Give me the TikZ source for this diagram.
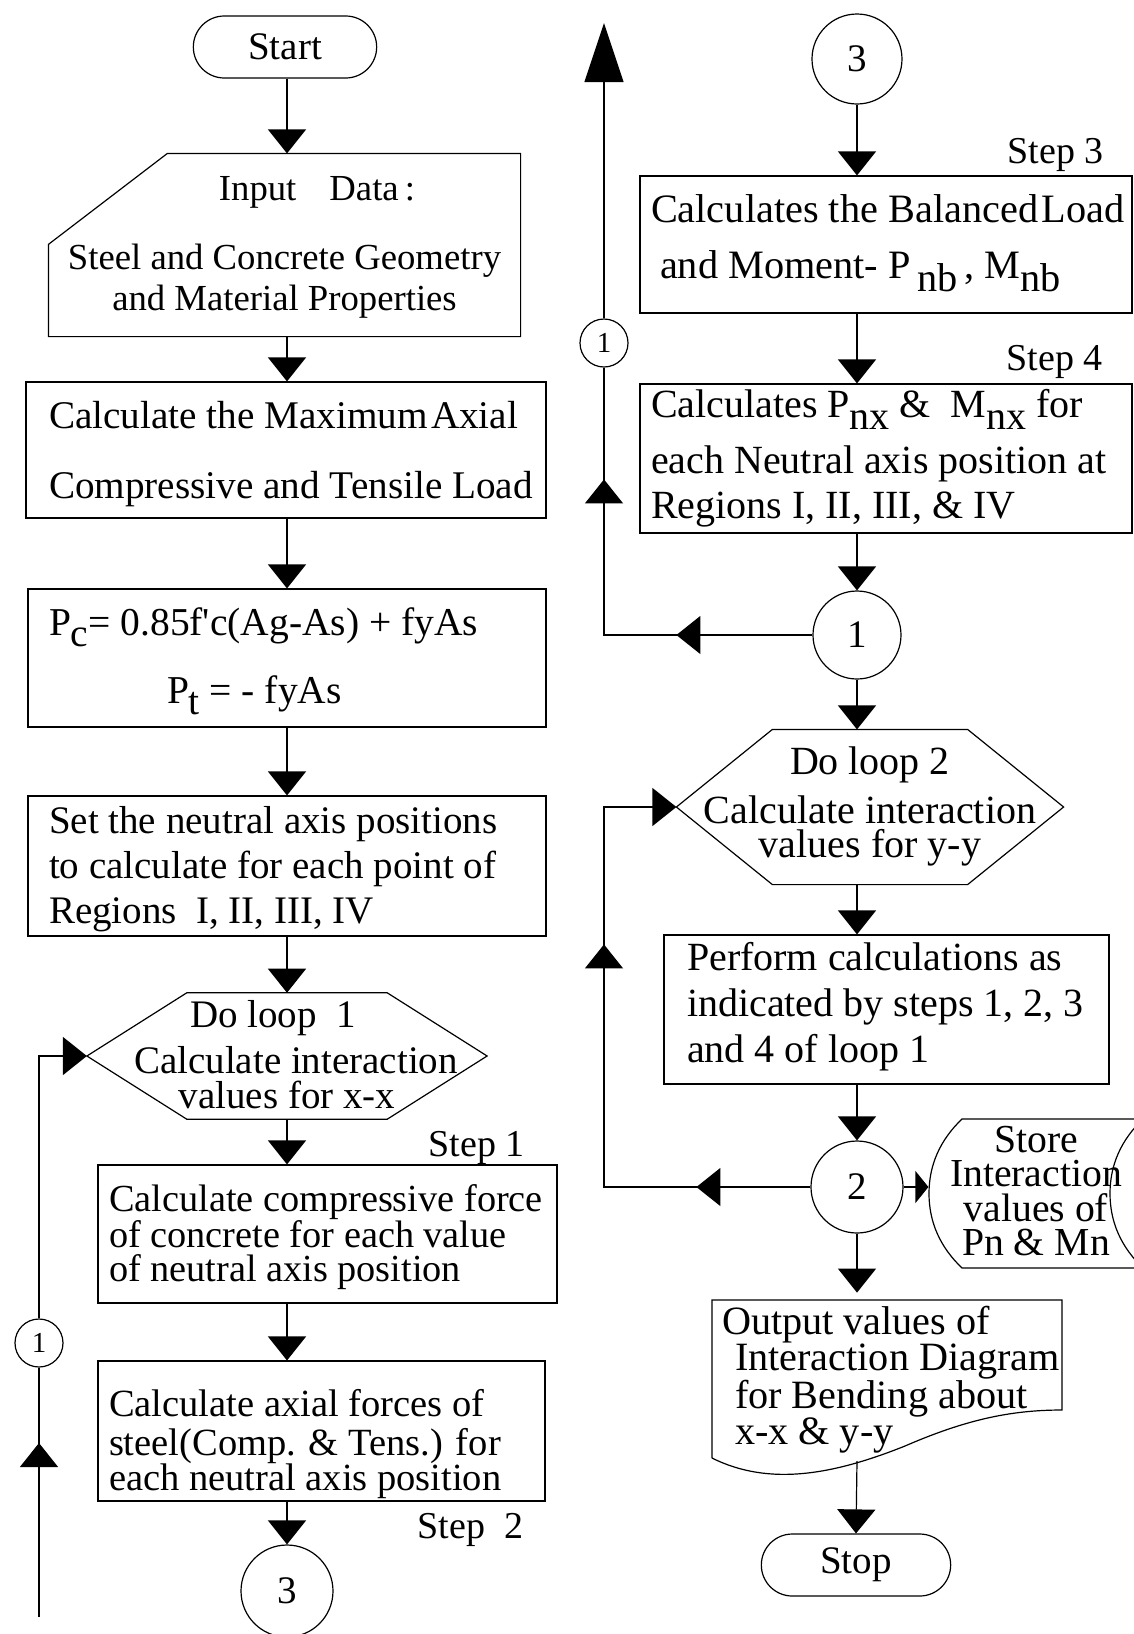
\documentclass[tikz,border=0pt]{standalone}
\usepackage{fontspec}
\setmainfont{Liberation Serif}
\usetikzlibrary{arrows.meta,shapes.misc,decorations.markings}

\newcommand{\fsz}[2]{\fontsize{#1pt}{#2pt}\selectfont}
\newcommand{\hstrut}[1]{\rule{0pt}{#1pt}}
\newcommand{\dstrut}[1]{\rule[-#1pt]{0pt}{#1pt}}
\newcommand{\lowr}[2]{\raisebox{-#1pt}[0pt][0pt]{#2}}
\newcommand{\hexframe}[2]{\draw (#1.west) -- ([xshift=#2pt]#1.north west) -- ([xshift=-#2pt]#1.north east) -- (#1.east) -- ([xshift=-#2pt]#1.south east) -- ([xshift=#2pt]#1.south west) -- cycle;}

\tikzset{
  procbox/.style={draw, rectangle, align=flush left, inner ysep=0pt},
  textbox/.style={rectangle, align=center, inner ysep=0pt},
  term/.style={draw, rounded rectangle, minimum width=#1, minimum height=62pt, font=\fsz{39}{44}},
  conn/.style={draw, circle, inner sep=0pt, minimum size=#1},
  steplbl/.style={anchor=base west, inner sep=0pt, font=\fsz{38}{40}},
  midtip/.style={postaction={decorate}, decoration={markings, mark=at position #1 with {\arrow{>}}}},
  loopback/.style 2 args={postaction={decorate}, decoration={markings, mark=at position #1 with {\arrow{>}}, mark=at position #2 with {\arrow{>}}}}
}

\begin{document}
\begin{tikzpicture}[x=1pt, y=-1pt, line width=1.2pt, >={Triangle[width=38pt,length=24pt]}]
        \useasboundingbox (0,0) rectangle (1134,1634);
        \clip (0,0) rectangle (1134,1634);
        \coordinate (colL) at (287,0);
        \coordinate (colR) at (857,0);

        % Start and input
        \node[term=190pt] (start) at (285,47) {Start};
        \node[textbox, minimum width=471pt, minimum height=182pt, font=\fsz{36.7}{41}] (input) at (284.5,245)
            {\hstrut{30}\hspace*{65pt}Input\hspace{0.9em}Data\,:\\[28pt]Steel and Concrete Geometry\\and Material Properties\dstrut{10}};
        \draw ([xshift=119pt]input.north west) -- (input.north east) -- (input.south east) -- (input.south west) -- ([yshift=-91pt]input.north west) -- cycle;

        % Axial loads
        \node[procbox, minimum width=520pt, minimum height=136pt, inner xsep=23pt, text width=474pt, font=\fsz{39.2}{70}] (maxax) at (286,450)
            {\hstrut{36}\mbox{Calculate the Maximum\hspace{0.08em}Axial}\\\mbox{Compressive and Tensile Load}\dstrut{10}};
        \node[procbox, minimum width=518pt, minimum height=138pt, inner xsep=21pt, text width=476pt, font=\fsz{39.5}{68}] (pc) at (287,658)
            {\hstrut{32}\mbox{P\lowr{11}{c}= 0.85f\textquotesingle c(Ag-As) + fyAs}\\\hspace*{118pt}P\lowr{11}{t} = - fyAs\dstrut{10}};
        \node[procbox, minimum width=518pt, minimum height=140pt, inner xsep=21pt, text width=476pt, font=\fsz{39}{45}] (setna) at (287,866)
            {\hstrut{34}\mbox{Set the neutral axis positions}\\\mbox{to calculate for each point of}\\Regions\ \ I, II, III, IV\dstrut{10}};

        % Loop 1
        \node[textbox, minimum width=399pt, minimum height=124pt, font=\fsz{39}{35}] (hex1) at (287,1056)
            {\hstrut{34}Do loop\ \ 1\hspace*{28pt}\\[10pt]\hspace*{18pt}Calculate interaction\\values for x-x\dstrut{10}};
        \hexframe{hex1}{100}
        \node[steplbl] (lblone) at (428,1156) {Step 1};
        \node[procbox, minimum width=459pt, minimum height=138pt, inner xsep=11pt, text width=437pt, font=\fsz{38.3}{33.5}] (step1) at (327.5,1234)
            {\hstrut{35}\mbox{Calculate compressive force}\\\mbox{of concrete for each value}\\of neutral axis position\dstrut{10}};
        \node[procbox, minimum width=447pt, minimum height=138pt, inner xsep=11pt, text width=425pt, font=\fsz{38.5}{30}] (step2) at (321.5,1431)
            {\hstrut{55}Calculate axial forces of\\[9pt]\mbox{steel(Comp. \& Tens.) for}\\\mbox{each neutral axis position}\dstrut{10}};
        \node[steplbl] (lbltwo) at (417,1538) {Step\ \ 2};
        \node[conn=92pt, font=\fsz{39}{40}] (c3b) at (287,1591) {3};

        % Left return line
        \coordinate (lbot) at (39,1617);
        \node[conn=48pt, font=\fsz{29}{30}] (c1l) at (39,1343) {1};

        % Steps 3 and 4
        \node[conn=90pt, font=\fsz{39}{40}] (c3t) at (857,59) {3};
        \node[steplbl] (lblthree) at (1007,163) {Step 3};
        \node[procbox, minimum width=492pt, minimum height=137pt, inner xsep=11pt, text width=470pt, font=\fsz{40.3}{56}] (step3) at (886,244.5)
            {\hstrut{27}\mbox{Calculates the Balanced\hspace{0.08em}Load}\\\mbox{\hspace*{9pt}and Moment- P\,\lowr{13}{nb}\,, M\lowr{13}{nb}}\dstrut{16}};
        \node[steplbl] (lblfour) at (1006,370) {Step 4};
        \node[procbox, minimum width=492pt, minimum height=149pt, inner xsep=11pt, text width=470pt, font=\fsz{40}{45}] (step4) at (886,458.5)
            {\hstrut{28}\mbox{Calculates P\lowr{12}{nx} \&\ \ M\lowr{12}{nx} for}\\[11pt]\mbox{each Neutral axis position at}\\Regions I, II, III, \& IV\dstrut{10}};
        \node[conn=88pt, font=\fsz{39}{40}] (c1r) at (857,635) {1};
        \node[conn=48pt, font=\fsz{29}{30}] (c1u) at (604,343) {1};
        \coordinate (toptip) at (604,23);

        % Loop 2
        \node[textbox, minimum width=386pt, minimum height=154pt, font=\fsz{40}{34}] (hex2) at (870,807)
            {\hstrut{27}Do loop 2\\[11pt]Calculate interaction\\values for y-y\dstrut{10}};
        \hexframe{hex2}{96}
        \coordinate (rl2) at (604,807);
        \node[procbox, minimum width=445pt, minimum height=149pt, inner xsep=23pt, text width=399pt, font=\fsz{40}{46}] (perform) at (886.5,1009.5)
            {\hstrut{27}\mbox{Perform calculations as}\\\mbox{indicated by steps 1, 2, 3}\\and 4 of loop 1\dstrut{14}};
        \node[conn=92pt, font=\fsz{39}{40}] (c2) at (857,1187) {2};

        % Stored data
        \node[textbox, minimum width=214pt, minimum height=149pt, font=\fsz{39.7}{34.3}] (store) at (1036,1193.5)
            {\hstrut{27}Store\\Interaction\\values of\\Pn \& Mn\dstrut{6}};
        \draw (962,1119) .. controls (940,1140) and (929,1165) .. (929,1193.5) .. controls (929,1222) and (940,1247) .. (962,1268)
            -- (1143,1268) .. controls (1121,1247) and (1110,1222) .. (1110,1193.5) .. controls (1110,1165) and (1121,1140) .. (1143,1119) -- cycle;

        % Output document
        \node[rectangle, align=flush left, inner ysep=0pt, minimum width=350pt, minimum height=158pt, inner xsep=10pt, text width=330pt, font=\fsz{40.2}{34}] (outp) at (887,1379)
            {\hstrut{41}Output values of\\\mbox{\hspace*{13pt}Interaction Diagram}\\\mbox{\hspace*{13pt}for Bending about}\\\hspace*{13pt}x-x \& y-y\dstrut{20}};
        \draw (712,1458) -- (712,1300) -- (1062,1300) -- (1062,1410) .. controls (1010,1410) and (965,1420) .. (905,1446)
            .. controls (835,1474) and (770,1487) .. (712,1458);
        \coordinate (outb) at (857,1461);
        \node[term=196pt] (stop) at (856,1565) {Stop};

        % Flow lines, left
        \draw[->] (start.south -| colL) -- (input.north -| colL);
        \draw[->] (input.south -| colL) -- (maxax.north -| colL);
        \draw[->] (maxax.south -| colL) -- (pc.north -| colL);
        \draw[->] (pc.south -| colL) -- (setna.north -| colL);
        \draw[->] (setna.south -| colL) -- (hex1.north);
        \draw[->] (hex1.south) -- (step1.north -| colL);
        \draw[->] (step1.south -| colL) -- (step2.north -| colL);
        \draw[->] (step2.south -| colL) -- (c3b.north);
        \draw[midtip=174pt] (lbot) -- (c1l.south);
        \draw[->] (c1l.north) |- (hex1.west);

        % Flow lines, right
        \draw[->] (c3t.south) -- (step3.north -| colR);
        \draw[->] (step3.south -| colR) -- (step4.north -| colR);
        \draw[->] (step4.south -| colR) -- (c1r.north);
        \draw[loopback={136pt}{364pt}] (c1r.west) -| (c1u.south);
        \draw[-{Triangle[width=39pt,length=59pt]}] (c1u.north) -- (toptip);
        \draw[->] (c1r.south) -- (hex2.north -| colR);
        \draw[->] (hex2.south -| colR) -- (perform.north -| colR);
        \draw[->] (perform.south -| colR) -- (c2.north);
        \draw[->, loopback={114pt}{449pt}] (c2.west) -| (rl2) -- (hex2.west);
        \draw[-{Triangle[width=32pt,length=13pt]}] (c2.east) -- (c2.east -| store.west);
        \draw[->] (c2.south) -- (outp.north -| colR);
        \draw[->] (outb) -- (stop.north);
    \end{tikzpicture}
\end{document}
